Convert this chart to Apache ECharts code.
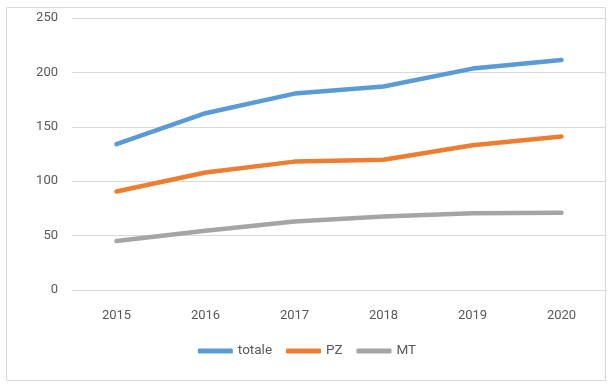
<!DOCTYPE html>
<html>
<head>
<meta charset="utf-8">
<script src="https://cdn.jsdelivr.net/npm/echarts@6/dist/echarts.min.js"></script>
<style>html,body{margin:0;padding:0;background:#fff}#c{width:614px;height:391px}</style>
</head>
<body>
<div id="c"></div>
<script>
const categories = ['2015','2016','2017','2018','2019','2020'];
const totale = [134, 162.5, 180.5, 187, 203.5, 211.5];
const PZ = [90.5, 108, 118, 119.7, 133, 141];
const MT = [45, 54.5, 63, 67.5, 70.5, 71];
const yTicks = {min: 0, max: 250, interval: 50};

const chart = echarts.init(document.getElementById('c'), null, {renderer: 'canvas'});
const font = 'Roboto, "Noto Sans", sans-serif';
function mk(name, data, color) {
  return {name, type: 'line', data, symbol: 'none', smooth: false,
    lineStyle: {width: 4.5, color, cap: 'round', join: 'round'}, itemStyle: {color}};
}
chart.setOption({
  animation: false,
  graphic: [{type: 'rect', shape: {x: 6.5, y: 7.5, width: 599, height: 373},
    style: {fill: 'none', stroke: '#d9d9d9', lineWidth: 1}}],
  grid: {left: 72, right: 8, top: 18, bottom: 101, containLabel: false},
  legend: {bottom: 28, left: 'center', itemWidth: 35, itemHeight: 5, itemGap: 14,
    icon: 'roundRect', textStyle: {color: '#595959', fontSize: 13.5, fontFamily: font},
    data: ['totale', 'PZ', 'MT']},
  xAxis: {type: 'category', data: categories, boundaryGap: true,
    axisLine: {lineStyle: {color: '#d9d9d9', width: 1}}, axisTick: {show: false},
    axisLabel: {color: '#595959', fontSize: 13, fontFamily: font, margin: 19}},
  yAxis: {type: 'value', min: yTicks.min, max: yTicks.max, interval: yTicks.interval,
    axisLine: {show: false}, axisTick: {show: false},
    splitLine: {lineStyle: {color: '#d9d9d9', width: 1}},
    axisLabel: {color: '#595959', fontSize: 13, fontFamily: font, margin: 14}},
  series: [mk('totale', totale, '#5b9bd5'), mk('PZ', PZ, '#ed7d31'), mk('MT', MT, '#a5a5a5')]
});
</script>
</body>
</html>
